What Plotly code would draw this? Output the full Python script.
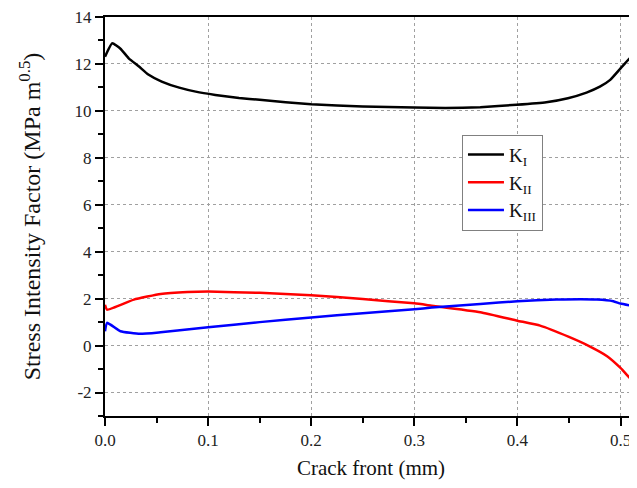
import plotly.graph_objects as go

# K_I
x_k1 = [0.0, 0.007, 0.015, 0.023, 0.033, 0.042, 0.055, 0.072, 0.088, 0.107, 0.13, 0.15, 0.2, 0.25, 0.3, 0.33,
        0.364, 0.399, 0.428, 0.449, 0.467, 0.480, 0.490, 0.503, 0.512, 0.516]
y_k1 = [12.31, 12.88, 12.65, 12.24, 11.89, 11.55, 11.25, 10.99, 10.82, 10.68, 10.55, 10.47, 10.28, 10.19, 10.14,
        10.12, 10.16, 10.26, 10.37, 10.54, 10.78, 11.03, 11.32, 11.96, 12.38, 12.46]

# K_II
x_k2 = [0.0, 0.002, 0.028, 0.054, 0.08, 0.1, 0.15, 0.2, 0.25, 0.3, 0.317, 0.364, 0.4, 0.422, 0.45,
        0.47, 0.487, 0.5, 0.509, 0.516]
y_k2 = [1.74, 1.53, 1.96, 2.2, 2.28, 2.3, 2.25, 2.15, 1.98, 1.8, 1.7, 1.42, 1.06, 0.85, 0.37,
        -0.03, -0.45, -0.95, -1.38, -1.66]

# K_III
x_k3 = [0.0, 0.002, 0.015, 0.034, 0.054, 0.1, 0.15, 0.2, 0.25, 0.3, 0.317, 0.364, 0.4, 0.438, 0.477,
        0.493, 0.5, 0.516]
y_k3 = [0.61, 0.97, 0.61, 0.5, 0.57, 0.78, 1.0, 1.2, 1.38, 1.55, 1.62, 1.77, 1.89, 1.96, 1.96,
        1.89, 1.79, 1.65]

series_names = ["K<sub>I</sub>", "K<sub>II</sub>", "K<sub>III</sub>"]
colors = ["#000000", "#ff0000", "#0000ff"]

x_tickvals = [0.0, 0.1, 0.2, 0.3, 0.4, 0.5]
x_ticktext = ["0.0", "0.1", "0.2", "0.3", "0.4", "0.5"]
y_tickvals = [-2, 0, 2, 4, 6, 8, 10, 12, 14]
y_ticktext = ["-2", "0", "2", "4", "6", "8", "10", "12", "14"]

FONT = "Liberation Serif, Times New Roman, serif"

fig = go.Figure()
for xs, ys, name, c in zip([x_k1, x_k2, x_k3], [y_k1, y_k2, y_k3], series_names, colors):
    fig.add_trace(go.Scatter(x=xs, y=ys, mode="lines", name=name,
                             line=dict(color=c, width=2.5, shape="spline", smoothing=0.4)))

axis_common = dict(
    showline=True, linecolor="black", linewidth=2,
    ticks="outside", ticklen=8, tickwidth=2, tickcolor="black",
    showgrid=True, gridcolor="#a0a0a0", griddash="dot", gridwidth=1,
    zeroline=False, automargin=False, ticklabeloverflow="allow",
    tickfont=dict(family=FONT, size=17, color="#222"),
)

fig.update_xaxes(
    range=[0, 0.516], tickvals=x_tickvals, ticktext=x_ticktext, mirror=True,
    minor=dict(dtick=0.05, tick0=0, ticks="outside", ticklen=5, tickwidth=2, tickcolor="black", showgrid=False),
    title=dict(text="Crack front (mm)", font=dict(family=FONT, size=21, color="#111"), standoff=14),
    **axis_common,
)
fig.update_yaxes(
    range=[-3, 14], tickvals=y_tickvals, ticktext=y_ticktext,
    minor=dict(dtick=1, tick0=0, ticks="outside", ticklen=5, tickwidth=2, tickcolor="black", showgrid=False),
    title=dict(text="Stress Intensity Factor (MPa m<sup>0.5</sup>)", font=dict(family=FONT, size=24, color="#111"), standoff=27),
    **axis_common,
)

fig.update_layout(
    width=629, height=472,
    margin=dict(l=97, r=0, t=9, b=64),
    plot_bgcolor="white", paper_bgcolor="white",
    legend=dict(x=0.671, y=0.705, xanchor="left", yanchor="top",
                bordercolor="#808080", borderwidth=1, bgcolor="white",
                font=dict(family=FONT, size=19, color="#111"),
                itemwidth=36, tracegroupgap=0),
)

fig.write_html("out.html")
